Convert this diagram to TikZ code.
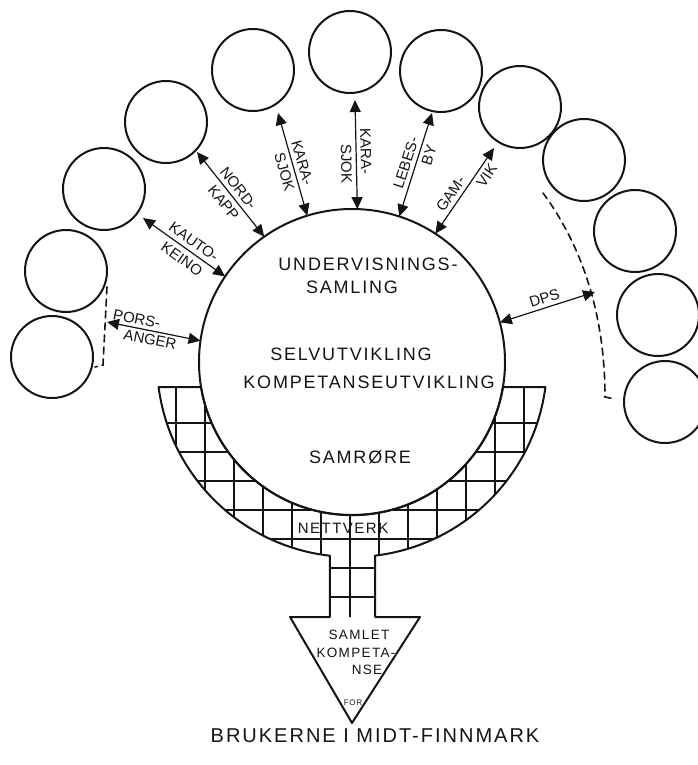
\documentclass[tikz,border=0pt]{standalone}
\usepackage{fontspec}
\usetikzlibrary{arrows.meta}
\newfontfamily\handfont[LetterSpace=10]{Liberation Sans}
\newfontfamily\tagfont{Liberation Sans}
\definecolor{pen}{HTML}{141414}
\tikzset{
  ring/.style={
    draw=pen, circle, minimum size=82pt, inner sep=0pt, line width=2pt},
  hub/.style={
    draw=pen, circle, minimum size=306pt, inner sep=0pt, outer sep=0pt,
    line width=2pt},
  linkarrow/.style={
    {Triangle[length=12pt,width=11pt]}-{Triangle[length=12pt,width=11pt]},
    draw=pen, line width=1.2pt},
  linklabel/.style={font=\tagfont\fontsize{15}{15}\selectfont, text=pen,
    inner sep=1pt},
  hubtext/.style={font=\handfont\fontsize{18}{18}\selectfont, text=pen},
  boxtext/.style={font=\handfont\fontsize{15}{15}\selectfont, text=pen},
  headtext/.style={font=\handfont\fontsize{13.5}{13.5}\selectfont, text=pen},
  trail/.style={draw=pen, dash pattern=on 7pt off 5pt, line width=1.6pt},
  gridline/.style={draw=pen, line width=1.4pt},
  every picture/.style={line cap=round},
}

\begin{document}
\begin{tikzpicture}[x=1pt, y=1pt]
\useasboundingbox (0,0) rectangle (697,-765);

% Centre circle and the ring of places.
\node[hub] (hub) at (352,-362) {};
\foreach \name/\px/\py in {%
    site1/52/357, site2/66/271, site3/104/189, site4/166/122,
    site5/253/70, site6/350/52, site7/441/71, site8/520/107,
    site9/584/160, site10/635/231, site11/658/315, site12/665/402} {
  \node[ring] (\name) at (\px,-\py) {};
}

% Dashed groupings.
\coordinate (west-top) at (107,-287);
\coordinate (west-bend) at (103,-365);
\coordinate (west-end) at (95,-367);
\draw[trail] (west-top) -- (west-bend) -- (west-end);
\coordinate (east-top) at (543,-193);
\coordinate (east-bend) at (605,-397);
\coordinate (east-end) at (615,-399);
\draw[trail] (east-top) .. controls (585,-250) and (605,-320) .. (east-bend)
  -- (east-end);

% Links to the centre.
\coordinate (porsanger) at (107,-322);
\coordinate (kautokeino) at (143,-218);
\coordinate (nordkapp) at (197,-152);
\coordinate (karasjok) at (278,-113);
\coordinate (karasjok-b) at (355,-100);
\coordinate (lebesby) at (432,-113);
\coordinate (gamvik) at (494,-148);
\coordinate (dps) at (595,-292);

\draw[linkarrow] (porsanger) -- (hub.172)
  node[linklabel, pos=0.3, sloped, above=2pt] {PORS-}
  node[linklabel, pos=0.48, sloped, below=2pt] {ANGER};
\draw[linkarrow] (kautokeino) -- (hub.146)
  node[linklabel, pos=0.55, sloped, above=3pt] {KAUTO-}
  node[linklabel, pos=0.55, sloped, below=4pt] {KEINO};
\draw[linkarrow] (nordkapp) -- (hub.125)
  node[linklabel, pos=0.5, sloped, above=3pt] {NORD-}
  node[linklabel, pos=0.52, sloped, below=4pt] {KAPP};
\draw[linkarrow] (karasjok) -- (hub.107)
  node[linklabel, pos=0.51, sloped, above=3pt] {KARA-}
  node[linklabel, pos=0.55, sloped, below=3pt] {SJOK};
\draw[linkarrow] (karasjok-b) -- (hub.88)
  node[linklabel, pos=0.47, sloped, above=3pt] {KARA-}
  node[linklabel, pos=0.58, sloped, below=3pt] {SJOK};
\draw[linkarrow] (hub.72) -- (lebesby)
  node[linklabel, pos=0.49, sloped, above=3pt] {LEBES-}
  node[linklabel, pos=0.62, sloped, below=3pt] {BY};
\draw[linkarrow] (hub.57) -- (gamvik)
  node[linklabel, pos=0.4, sloped, above=3pt] {GAM-}
  node[linklabel, pos=0.74, sloped, below=3pt] {VIK};
\draw[linkarrow] (hub.15) -- (dps)
  node[linklabel, pos=0.5, sloped, above=3pt] {DPS};

% Network bowl, stem and arrow head.
\begin{scope}
  \clip (158.6,-387.1) arc[start angle=187.4, end angle=263.5, radius=195]
    -- (329.9,-617) -- (375.1,-617) -- (375.1,-555.6)
    arc[start angle=276.8, end angle=352.6, radius=195]
    -- (502.9,-387.1) arc[start angle=350.6, end angle=189.4, radius=153]
    -- cycle;
  \foreach \gx in {176,205,...,524}
    \draw[gridline] (\gx,-380) -- (\gx,-630);
  \foreach \gy in {423,452,...,597}
    \draw[gridline] (150,-\gy) -- (560,-\gy);
\end{scope}
\draw[draw=pen, line width=2pt, line join=round]
  (158.6,-387.1) arc[start angle=187.4, end angle=263.5, radius=195]
  -- (329.9,-617) -- (290,-617) -- (352,-723) -- (420,-617)
  -- (375.1,-617) -- (375.1,-555.6)
  arc[start angle=276.8, end angle=352.6, radius=195]
  -- (502.9,-387.1) arc[start angle=350.6, end angle=189.4, radius=153]
  -- cycle;

% Texts.
\node[hubtext] (teaching) at (368,-264) {UNDERVISNINGS-};
\node[hubtext] (gathering) at (352,-287) {SAMLING};
\node[hubtext] (selfdev) at (351,-354) {SELVUTVIKLING};
\node[hubtext] (compdev) at (369,-382) {KOMPETANSEUTVIKLING};
\node[hubtext] (collab) at (360,-457) {SAMRØRE};
\node[boxtext] (network) at (343,-528) {NETTVERK};
\node[headtext] (total) at (359,-635) {SAMLET};
\node[headtext] (competence) at (356,-653) {KOMPETA-};
\node[headtext] (competence-b) at (367,-670) {NSE};
\node[font=\handfont\fontsize{8}{8}\selectfont, text=pen] (for) at (353,-703)
  {FOR};
\node[font=\handfont\fontsize{20}{20}\selectfont, text=pen] (users)
  at (375,-736) {BRUKERNE I MIDT-FINNMARK};

\end{tikzpicture}
\end{document}
